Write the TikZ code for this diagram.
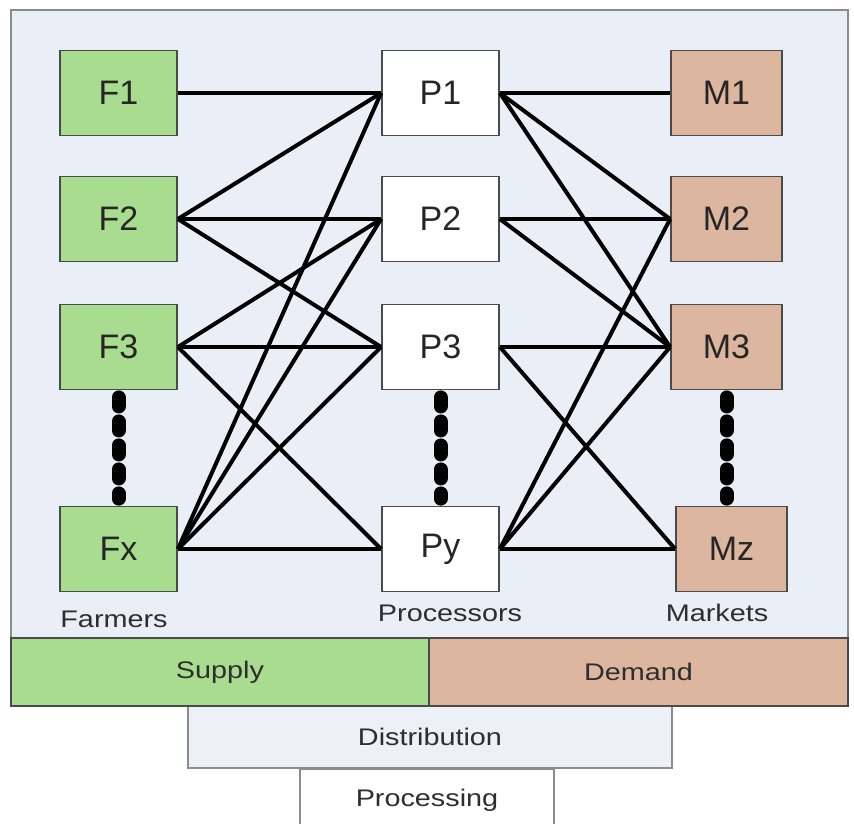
\documentclass[tikz,border=0pt]{standalone}
\usepackage{graphicx}
\usepackage{fontspec}
\setmainfont{Liberation Sans}

\definecolor{panelblue}{HTML}{E9EEF7}
\definecolor{framegray}{HTML}{8C8C8C}
\definecolor{boxline}{HTML}{4A4A4A}
\definecolor{farmgreen}{HTML}{A8DC8E}
\definecolor{markettan}{HTML}{DDB69F}
\definecolor{distfill}{HTML}{ECF0F7}
\definecolor{captiongray}{HTML}{2E2E2E}

% captions are set a little wider than the font draws them
\newcommand\widetext[1]{\scalebox{1.2}[1]{#1}}

\begin{document}
\begin{tikzpicture}[x=1pt,y=-1pt,
  box/.style={draw=boxline, line width=1.8pt, minimum width=117pt,
    minimum height=85pt, inner sep=0pt, text=black!85,
    font=\fontsize{34}{36}\selectfont},
  farm/.style={box, fill=farmgreen},
  proc/.style={box, fill=white},
  mkt/.style={box, fill=markettan, minimum width=111pt},
  link/.style={line width=4pt, black},
  ellipsis/.style={line width=14pt, dash pattern=on 9pt off 15pt, line cap=round},
  caption/.style={inner sep=0pt, text=captiongray,
    font=\fontsize{24}{26}\selectfont},
  band/.style={draw=boxline, line width=1.8pt, inner sep=0pt,
    text=captiongray, font=\fontsize{24}{26}\selectfont},
]
\useasboundingbox (0,0) rectangle (854,823);
\clip (0,0) rectangle (854,823);

% stacked base: processing, distribution, then the main panel
\node[band, draw=framegray, fill=white, minimum width=254pt, minimum height=62pt]
  (processing) at (427,800) {\widetext{Processing}};
\node[band, draw=framegray, fill=distfill, minimum width=484pt, minimum height=62pt]
  (distribution) at (430,737) {\widetext{Distribution}};
\node[draw=framegray, fill=panelblue, line width=2pt, inner sep=0pt,
  minimum width=837pt, minimum height=696pt] (panel) at (429.5,358) {};
\node[band, fill=farmgreen, minimum width=418pt, minimum height=68pt]
  (supply) at (220,672) {\widetext{Supply}};
\node[band, fill=markettan, minimum width=419pt, minimum height=68pt]
  (demand) at (638.5,672) {\widetext{Demand}};

% farmers
\node[farm] (F1) at (118.5,93)  {F1};
\node[farm] (F2) at (118.5,219) {F2};
\node[farm] (F3) at (118.5,347) {F3};
\node[farm] (Fx) at (118.5,549) {Fx};
% processors
\node[proc] (P1) at (440.5,93)  {P1};
\node[proc] (P2) at (440.5,219) {P2};
\node[proc] (P3) at (440.5,347) {P3};
\node[proc] (Py) at (440.5,549) {Py};
% markets
\node[mkt] (M1) at (726.5,93)  {M1};
\node[mkt] (M2) at (726.5,219) {M2};
\node[mkt] (M3) at (726.5,347) {M3};
\node[mkt] (Mz) at (731.5,549) {Mz};

% column captions
\node[caption] (farmers)    at (114,619) {\widetext{Farmers}};
\node[caption] (processors) at (450,613) {\widetext{Processors}};
\node[caption] (markets)    at (717,613) {\widetext{Markets}};

% farmer to processor links
\draw[link] (F1.east) -- (P1.west);
\draw[link] (F2.east) -- (P1.west);
\draw[link] (F2.east) -- (P2.west);
\draw[link] (F2.east) -- (P3.west);
\draw[link] (F3.east) -- (P2.west);
\draw[link] (F3.east) -- (P3.west);
\draw[link] (F3.east) -- (Py.west);
\draw[link] (Fx.east) -- (P1.west);
\draw[link] (Fx.east) -- (P2.west);
\draw[link] (Fx.east) -- (P3.west);
\draw[link] (Fx.east) -- (Py.west);

% processor to market links
\draw[link] (P1.east) -- (M1.west);
\draw[link] (P1.east) -- (M2.west);
\draw[link] (P1.east) -- (M3.west);
\draw[link] (P2.east) -- (M2.west);
\draw[link] (P2.east) -- (M3.west);
\draw[link] (P3.east) -- (M3.west);
\draw[link] (P3.east) -- (Mz.west);
\draw[link] (Py.east) -- (M2.west);
\draw[link] (Py.east) -- (M3.west);
\draw[link] (Py.east) -- (Mz.west);

% elided rows
\draw[ellipsis] ([yshift=-7pt]F3.south) -- ([yshift=7pt]Fx.north);
\draw[ellipsis] ([yshift=-7pt]P3.south) -- ([yshift=7pt]Py.north);
\draw[ellipsis] ([yshift=-7pt]M3.south) -- ([yshift=7pt]M3.south |- Mz.north);
\end{tikzpicture}
\end{document}
